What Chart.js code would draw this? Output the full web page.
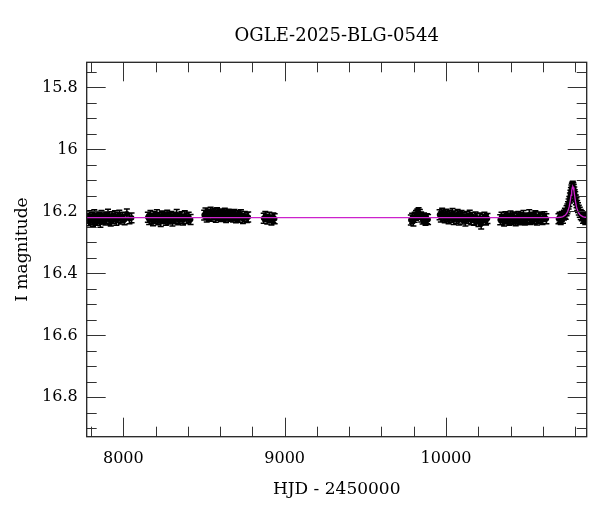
<!DOCTYPE html>
<html>
<head>
<meta charset="utf-8">
<script src="https://cdn.jsdelivr.net/npm/chart.js@4"></script>
<style>
html,body{margin:0;padding:0;background:#fff;}
#wrap{width:600px;height:512px;}
</style>
</head>
<body>
<div id="wrap"><canvas id="c" width="600" height="512"></canvas></div>
<script>
// ---- data ----
const chartTitle = 'OGLE-2025-BLG-0544';
const xAxisTitle = 'HJD - 2450000';
const yAxisTitle = 'I magnitude';

const xTicks = [8000, 9000, 10000];
const xTickLabels = ['8000', '9000', '10000'];
const yTicks = [15.8, 16.0, 16.2, 16.4, 16.6, 16.8];
const yTickLabels = ['15.8', '16', '16.2', '16.4', '16.6', '16.8'];

const xRange = [7773, 10872];
const yRange = [15.719, 16.927];

// observations (HJD - 2450000, I mag)
const hjd = [
  7778,7785,7791,7799,7806,7812,7820,7827,7835,7842,7850,7858,7865,7873,7880,7889,7897,7905,7914,7922,7930,7939,7948,7957,7966,7975,7985,7996,8008,8022,8038,8051,
  8152,8160,8168,8176,8184,8192,8200,8208,8216,8224,8232,8240,8248,8256,8264,8272,8280,8288,8296,8304,8313,8322,8331,8340,8350,8360,8370,8381,8393,8405,8417,
  8501,8509,8517,8525,8533,8541,8549,8557,8565,8573,8581,8589,8597,8605,8613,8621,8629,8637,8645,8653,8662,8671,8680,8689,8698,8708,8718,8729,8741,8753,8766,8774,
  8870,8880,8892,8905,8918,8930,8938,
  9782,9790,9798,9806,9814,9822,9830,9838,9846,9855,9864,9873,9882,9889,
  9960,9968,9976,9984,9992,10000,10008,10016,10024,10032,10040,10048,10056,10064,10072,10080,10088,10096,10104,10112,10120,10129,10138,10147,10156,10165,10174,10183,10192,10201,10210,10218,10228,10238,10248,10257,
  10336,10344,10352,10360,10368,10376,10384,10392,10400,10408,10416,10424,10432,10440,10448,10456,10464,10472,10480,10489,10498,10507,10516,10525,10534,10544,10554,10564,10575,10586,10598,10610,10622,
  10697,10704,10711,10718,10725,10731,10737,10742,10747,10752,10756,10760,10764,10768,10771,10774,10777,10780,10783,10786,10789,10792,10795,10798,10801,10805,10809,10813,10818,10823,10829,10835,10842,10849,10856,10863,10870
];
const mag = [
  16.222,16.230,16.214,16.226,16.219,16.233,16.211,16.224,16.229,16.216,16.221,16.235,16.213,16.225,16.218,16.228,16.222,16.209,16.226,16.231,16.217,16.223,16.214,16.229,16.220,16.212,16.225,16.219,16.227,16.208,16.224,16.221,
  16.219,16.226,16.213,16.224,16.230,16.217,16.222,16.211,16.227,16.220,16.233,16.215,16.223,16.218,16.229,16.212,16.225,16.221,16.216,16.231,16.219,16.224,16.210,16.227,16.222,16.217,16.228,16.214,16.223,16.219,16.226,
  16.212,16.205,16.218,16.209,16.214,16.203,16.216,16.210,16.207,16.219,16.204,16.213,16.208,16.217,16.211,16.215,16.206,16.220,16.212,16.209,16.216,16.213,16.218,16.210,16.221,16.214,16.219,16.211,16.223,16.216,16.220,16.218,
  16.222,16.216,16.225,16.219,16.228,16.221,16.224,
  16.228,16.222,16.231,16.219,16.213,16.208,16.204,16.210,16.218,16.225,16.221,16.229,16.224,16.226,
  16.211,16.218,16.206,16.214,16.221,16.209,16.216,16.224,16.212,16.219,16.207,16.226,16.215,16.222,16.210,16.228,16.217,16.213,16.225,16.219,16.231,16.216,16.223,16.212,16.227,16.220,16.229,16.218,16.224,16.233,16.221,16.241,16.226,16.219,16.228,16.223,
  16.227,16.219,16.225,16.231,16.217,16.224,16.221,16.229,16.215,16.226,16.222,16.218,16.230,16.223,16.216,16.227,16.220,16.225,16.213,16.228,16.221,16.224,16.211,16.226,16.219,16.223,16.214,16.228,16.218,16.222,16.226,16.217,16.224,
  16.224,16.219,16.226,16.216,16.222,16.212,16.206,16.209,16.198,16.192,16.185,16.176,16.168,16.157,16.148,16.139,16.131,16.125,16.121,16.119,16.124,16.129,16.137,16.146,16.153,16.163,16.172,16.181,16.188,16.196,16.203,16.210,16.214,16.222,16.219,16.226,16.223
];
const magErr = 0.016;

// model light curve
const modelHjd = [7700,10690,10710,10725,10740,10750,10758,10764,10770,10775,10779,10783,10786,10789,10793,10797,10802,10808,10814,10822,10832,10847,10862,10900];
const modelMag = [16.220,16.220,16.219,16.217,16.212,16.205,16.195,16.184,16.166,16.148,16.134,16.123,16.120,16.123,16.134,16.148,16.166,16.184,16.195,16.205,16.212,16.217,16.219,16.220];

// ---- chart ----
const SERIF = "'DejaVu Serif', serif";
const obsPts = hjd.map((x, i) => ({x: x, y: mag[i]}));
const modelPts = modelHjd.map((x, i) => ({x: x, y: modelMag[i]}));

const framePlugin = {
  id: 'framePlugin',
  beforeDatasetsDraw(chart) {
    const {ctx, chartArea: a, scales: {x, y}} = chart;
    ctx.save();
    ctx.beginPath();
    ctx.rect(a.left, a.top, a.right - a.left, a.bottom - a.top);
    ctx.clip();
    ctx.strokeStyle = '#000';
    ctx.lineWidth = 1.5;
    ctx.beginPath();
    for (let i = 0; i < hjd.length; i++) {
      const px = x.getPixelForValue(hjd[i]);
      const y1 = y.getPixelForValue(mag[i] - magErr);
      const y2 = y.getPixelForValue(mag[i] + magErr);
      ctx.moveTo(px, y1); ctx.lineTo(px, y2);
      ctx.moveTo(px - 3, y1); ctx.lineTo(px + 3, y1);
      ctx.moveTo(px - 3, y2); ctx.lineTo(px + 3, y2);
    }
    ctx.stroke();
    ctx.restore();
  },
  afterDraw(chart) {
    const {ctx, chartArea: a, scales: {x, y}} = chart;
    ctx.save();
    // ticks
    ctx.strokeStyle = '#333';
    ctx.lineWidth = 1;
    ctx.beginPath();
    const xMajor = new Set(xTicks);
    for (let v = 7800; v <= 10900; v += 200) {
      if (v < xRange[0] || v > xRange[1]) continue;
      const len = xMajor.has(v) ? 19 : 10;
      const px = Math.round(x.getPixelForValue(v)) + 0.5;
      ctx.moveTo(px, a.bottom); ctx.lineTo(px, a.bottom - len);
      ctx.moveTo(px, a.top); ctx.lineTo(px, a.top + len);
    }
    for (let k = 0; k <= 24; k++) {
      const v = 15.75 + k * 0.05;
      if (v < yRange[0] || v > yRange[1]) continue;
      const major = yTicks.some(t => Math.abs(t - v) < 1e-6);
      const len = major ? 19 : 10;
      const py = Math.round(y.getPixelForValue(v)) + 0.5;
      ctx.moveTo(a.left, py); ctx.lineTo(a.left + len, py);
      ctx.moveTo(a.right, py); ctx.lineTo(a.right - len, py);
    }
    ctx.stroke();
    // frame
    ctx.strokeStyle = '#222';
    ctx.lineWidth = 1.3;
    ctx.strokeRect(a.left, a.top, a.right - a.left, a.bottom - a.top);
    // title
    ctx.fillStyle = '#000';
    ctx.font = '18px ' + SERIF;
    ctx.textAlign = 'center';
    ctx.textBaseline = 'middle';
    ctx.fillText(chartTitle, (a.left + a.right) / 2, 36.5);
    ctx.restore();
  }
};

new Chart(document.getElementById('c'), {
  type: 'scatter',
  data: {
    datasets: [
      {
        label: 'model',
        type: 'line',
        data: modelPts,
        borderColor: '#cc22cc',
        borderWidth: 1.3,
        pointRadius: 0,
        fill: false,
        tension: 0,
        order: 0
      },
      {
        label: 'OGLE',
        data: obsPts,
        backgroundColor: '#000',
        borderColor: '#000',
        borderWidth: 0,
        pointRadius: 2.8,
        order: 1
      }
    ]
  },
  options: {
    responsive: false,
    animation: false,
    devicePixelRatio: 1,
    layout: {padding: {left: 0, right: 13.3, top: 62.3, bottom: 0}},
    plugins: {legend: {display: false}, tooltip: {enabled: false}, title: {display: false}},
    scales: {
      x: {
        type: 'linear',
        min: xRange[0], max: xRange[1],
        grid: {display: false, drawTicks: false},
        border: {display: false},
        afterBuildTicks(s) { s.ticks = xTicks.map(v => ({value: v})); },
        afterFit(s) { s.height = 75.3; },
        ticks: {
          color: '#000', padding: 13, maxRotation: 0, autoSkip: false,
          font: {family: SERIF, size: 16},
          callback: (v, i) => xTickLabels[i]
        },
        title: {display: true, text: xAxisTitle, color: '#000', font: {family: SERIF, size: 17}, padding: {top: 0, bottom: 12}}
      },
      y: {
        type: 'linear',
        reverse: true,
        min: yRange[0], max: yRange[1],
        grid: {display: false, drawTicks: false},
        border: {display: false},
        afterBuildTicks(s) { s.ticks = yTicks.map(v => ({value: v})); },
        afterFit(s) { s.width = 86.7; },
        ticks: {
          color: '#000', padding: 9, autoSkip: false,
          font: {family: SERIF, size: 16},
          callback: (v, i) => yTickLabels[i]
        },
        title: {display: true, text: yAxisTitle, color: '#000', font: {family: SERIF, size: 17}, padding: {top: 12, bottom: 0}}
      }
    }
  },
  plugins: [framePlugin]
});
</script>
</body>
</html>
